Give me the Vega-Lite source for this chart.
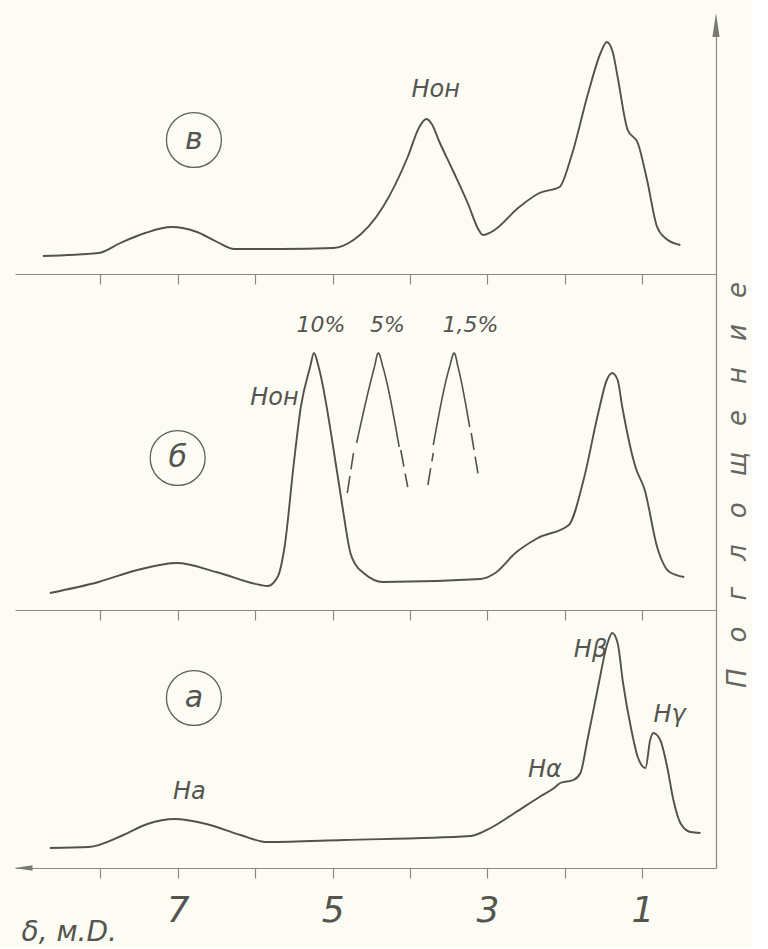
{
  "$schema": "https://vega.github.io/schema/vega-lite/v6.json",
  "background": "#fcfcf5",
  "padding": {"left": 14, "top": 13, "right": 0, "bottom": 0},
  "spacing": 0,
  "bounds": "flush",
  "config": {
    "view": {"stroke": null},
    "axis": {"grid": false, "domainColor": "#8a8a83", "tickColor": "#8a8a83", "domainWidth": 1.2, "tickWidth": 1.2, "tickSize": 10}
  },
  "datasets": {
    "curve_v": [
      {"ppm": 8.74, "v": 18}, {"ppm": 8.02, "v": 21}, {"ppm": 7.74, "v": 31}, {"ppm": 7.42, "v": 41},
      {"ppm": 7.08, "v": 47}, {"ppm": 6.75, "v": 42}, {"ppm": 6.49, "v": 32}, {"ppm": 6.27, "v": 25},
      {"ppm": 5.67, "v": 25}, {"ppm": 4.99, "v": 26}, {"ppm": 4.73, "v": 34}, {"ppm": 4.35, "v": 67},
      {"ppm": 4.03, "v": 117}, {"ppm": 3.88, "v": 147}, {"ppm": 3.79, "v": 155}, {"ppm": 3.72, "v": 150},
      {"ppm": 3.62, "v": 132}, {"ppm": 3.45, "v": 104}, {"ppm": 3.25, "v": 70}, {"ppm": 3.12, "v": 45},
      {"ppm": 3.06, "v": 39}, {"ppm": 2.95, "v": 42},
      {"ppm": 2.59, "v": 67}, {"ppm": 2.33, "v": 81}, {"ppm": 2.07, "v": 87},
      {"ppm": 1.92, "v": 117}, {"ppm": 1.7, "v": 181}, {"ppm": 1.54, "v": 221}, {"ppm": 1.46, "v": 232},
      {"ppm": 1.38, "v": 221}, {"ppm": 1.32, "v": 197}, {"ppm": 1.19, "v": 144}, {"ppm": 1.06, "v": 131},
      {"ppm": 0.94, "v": 94}, {"ppm": 0.81, "v": 47}, {"ppm": 0.69, "v": 35}, {"ppm": 0.51, "v": 29}
    ],
    "curve_b": [
      {"ppm": 8.65, "v": 17}, {"ppm": 8.02, "v": 28}, {"ppm": 7.52, "v": 40}, {"ppm": 7.01, "v": 47},
      {"ppm": 6.5, "v": 38}, {"ppm": 5.93, "v": 25}, {"ppm": 5.84, "v": 24}, {"ppm": 5.71, "v": 33},
      {"ppm": 5.62, "v": 63}, {"ppm": 5.5, "v": 147}, {"ppm": 5.41, "v": 203}, {"ppm": 5.29, "v": 243},
      {"ppm": 5.24, "v": 257}, {"ppm": 5.18, "v": 243}, {"ppm": 4.94, "v": 137},
      {"ppm": 4.87, "v": 102}, {"ppm": 4.77, "v": 57}, {"ppm": 4.7, "v": 45}, {"ppm": 4.6, "v": 37},
      {"ppm": 4.35, "v": 28}, {"ppm": 3.09, "v": 31}, {"ppm": 2.9, "v": 37}, {"ppm": 2.64, "v": 57},
      {"ppm": 2.35, "v": 72}, {"ppm": 1.95, "v": 85}, {"ppm": 1.76, "v": 130}, {"ppm": 1.57, "v": 197},
      {"ppm": 1.46, "v": 230}, {"ppm": 1.39, "v": 237}, {"ppm": 1.32, "v": 230}, {"ppm": 1.26, "v": 203},
      {"ppm": 1.09, "v": 143}, {"ppm": 0.97, "v": 120}, {"ppm": 0.81, "v": 63}, {"ppm": 0.65, "v": 38},
      {"ppm": 0.46, "v": 33}
    ],
    "peaks_b": [
      {"seg": "p5", "style": "solid", "ppm": 4.69, "v": 167}, {"seg": "p5", "style": "solid", "ppm": 4.46, "v": 243},
      {"seg": "p5", "style": "solid", "ppm": 4.41, "v": 257}, {"seg": "p5", "style": "solid", "ppm": 4.35, "v": 243},
      {"seg": "p5", "style": "solid", "ppm": 4.14, "v": 163},
      {"seg": "p5l", "style": "dashed", "ppm": 4.73, "v": 157}, {"seg": "p5l", "style": "dashed", "ppm": 4.81, "v": 117},
      {"seg": "p5r", "style": "dashed", "ppm": 4.12, "v": 160}, {"seg": "p5r", "style": "dashed", "ppm": 4.03, "v": 123},
      {"seg": "p15", "style": "solid", "ppm": 3.7, "v": 165}, {"seg": "p15", "style": "solid", "ppm": 3.49, "v": 243},
      {"seg": "p15", "style": "solid", "ppm": 3.43, "v": 257}, {"seg": "p15", "style": "solid", "ppm": 3.38, "v": 243},
      {"seg": "p15", "style": "solid", "ppm": 3.23, "v": 183},
      {"seg": "p15l", "style": "dashed", "ppm": 3.7, "v": 157}, {"seg": "p15l", "style": "dashed", "ppm": 3.77, "v": 125},
      {"seg": "p15r", "style": "dashed", "ppm": 3.21, "v": 177}, {"seg": "p15r", "style": "dashed", "ppm": 3.12, "v": 135}
    ],
    "curve_a": [
      {"ppm": 8.65, "v": 20}, {"ppm": 8.15, "v": 21}, {"ppm": 7.7, "v": 33}, {"ppm": 7.39, "v": 44},
      {"ppm": 7.04, "v": 49}, {"ppm": 6.63, "v": 44}, {"ppm": 6.19, "v": 33}, {"ppm": 5.84, "v": 26},
      {"ppm": 4.86, "v": 28}, {"ppm": 3.22, "v": 32}, {"ppm": 2.96, "v": 40}, {"ppm": 2.65, "v": 55},
      {"ppm": 2.33, "v": 71}, {"ppm": 2.14, "v": 80}, {"ppm": 2.06, "v": 85}, {"ppm": 1.89, "v": 88},
      {"ppm": 1.8, "v": 95}, {"ppm": 1.71, "v": 128}, {"ppm": 1.58, "v": 178}, {"ppm": 1.45, "v": 225},
      {"ppm": 1.39, "v": 235}, {"ppm": 1.32, "v": 225}, {"ppm": 1.25, "v": 185}, {"ppm": 1.15, "v": 141},
      {"ppm": 1.06, "v": 111}, {"ppm": 0.96, "v": 100}, {"ppm": 0.9, "v": 128}, {"ppm": 0.86, "v": 135},
      {"ppm": 0.77, "v": 128}, {"ppm": 0.68, "v": 101}, {"ppm": 0.6, "v": 68}, {"ppm": 0.51, "v": 45},
      {"ppm": 0.38, "v": 36}, {"ppm": 0.25, "v": 35}
    ],
    "circ_v": [{"ppm": 6.79, "v": 134, "label": "в"}],
    "circ_b": [{"ppm": 7.0, "v": 152, "label": "б"}],
    "circ_a": [{"ppm": 6.79, "v": 170, "label": "а"}],
    "lab_v": [{"ppm": 3.67, "v": 184, "label": "Hон"}],
    "lab_b": [{"ppm": 5.75, "v": 212, "label": "Hон"}],
    "pct_b": [
      {"ppm": 5.15, "v": 285, "label": "10%"},
      {"ppm": 4.29, "v": 285, "label": "5%"},
      {"ppm": 3.22, "v": 285, "label": "1,5%"}
    ],
    "side_b": [{"ppm": -0.24, "v": 125, "label": "П\u2003о\u2003г\u2003л\u2003о\u2003щ\u2003е\u2003н\u2003и\u2003е"}],
    "lab_a": [
      {"ppm": 6.85, "v": 76, "label": "Ha"},
      {"ppm": 2.26, "v": 98, "label": "Hα"},
      {"ppm": 1.67, "v": 218, "label": "Hβ"},
      {"ppm": 0.65, "v": 153, "label": "Hγ"}
    ],
    "arrow_up": [{"ppm": 0.05, "v": 249}],
    "arrow_left": [{"ppm": 8.99, "v": 0}]
  },
  "vconcat": [
    {
      "width": 701,
      "height": 249,
      "encoding": {
        "x": {"field": "ppm", "type": "quantitative", "scale": {"domain": [9.1, 0.05], "nice": false, "zero": false},
              "axis": {"values": [8, 7, 6, 5, 4, 3, 2, 1], "labels": false, "title": null}},
        "y": {"field": "v", "type": "quantitative", "scale": {"domain": [0, 249], "nice": false},
              "axis": {"orient": "right", "ticks": false, "labels": false, "title": null}}
      },
      "layer": [
        {"data": {"name": "curve_v"}, "mark": {"type": "line", "interpolate": "monotone", "color": "#52524a", "strokeWidth": 1.9}},
        {"data": {"name": "circ_v"}, "mark": {"type": "point", "shape": "circle", "size": 3019, "filled": false, "color": "#5e5e58", "strokeWidth": 1.3, "opacity": 1}},
        {"data": {"name": "circ_v"}, "mark": {"type": "text", "font": "DejaVu Sans", "fontStyle": "italic", "fontWeight": 200, "fontSize": 30, "color": "#55554f"}, "encoding": {"text": {"field": "label"}}},
        {"data": {"name": "lab_v"}, "mark": {"type": "text", "font": "DejaVu Sans", "fontStyle": "italic", "fontWeight": 200, "fontSize": 24, "color": "#55554f"}, "encoding": {"text": {"field": "label"}}},
        {"data": {"name": "arrow_up"}, "mark": {"type": "point", "shape": "M0,-1L0.3,1L-0.3,1Z", "size": 576, "filled": true, "color": "#7a7a74", "opacity": 1}}
      ]
    },
    {
      "width": 701,
      "height": 336,
      "encoding": {
        "x": {"field": "ppm", "type": "quantitative", "scale": {"domain": [9.1, 0.05], "nice": false, "zero": false},
              "axis": {"values": [8, 7, 6, 5, 4, 3, 2, 1], "labels": false, "title": null}},
        "y": {"field": "v", "type": "quantitative", "scale": {"domain": [0, 336], "nice": false},
              "axis": {"orient": "right", "ticks": false, "labels": false, "title": null}}
      },
      "layer": [
        {"data": {"name": "curve_b"}, "mark": {"type": "line", "interpolate": "monotone", "color": "#52524a", "strokeWidth": 1.9}},
        {"data": {"name": "peaks_b"}, "mark": {"type": "line", "interpolate": "monotone", "color": "#52524a", "strokeWidth": 1.6},
         "encoding": {"detail": {"field": "seg"},
                      "strokeDash": {"field": "style", "type": "nominal", "scale": {"domain": ["solid", "dashed"], "range": [[1, 0], [17, 7]]}, "legend": null}}},
        {"data": {"name": "circ_b"}, "mark": {"type": "point", "shape": "circle", "size": 3019, "filled": false, "color": "#5e5e58", "strokeWidth": 1.3, "opacity": 1}},
        {"data": {"name": "circ_b"}, "mark": {"type": "text", "font": "DejaVu Sans", "fontStyle": "italic", "fontWeight": 200, "fontSize": 30, "color": "#55554f"}, "encoding": {"text": {"field": "label"}}},
        {"data": {"name": "lab_b"}, "mark": {"type": "text", "font": "DejaVu Sans", "fontStyle": "italic", "fontWeight": 200, "fontSize": 24, "color": "#55554f"}, "encoding": {"text": {"field": "label"}}},
        {"data": {"name": "pct_b"}, "mark": {"type": "text", "font": "DejaVu Sans", "fontStyle": "italic", "fontWeight": 200, "fontSize": 22, "color": "#55554f"}, "encoding": {"text": {"field": "label"}}},
        {"data": {"name": "side_b"}, "mark": {"type": "text", "font": "DejaVu Sans", "fontStyle": "italic", "fontWeight": 200, "fontSize": 26, "angle": 270, "color": "#66665f"}, "encoding": {"text": {"field": "label"}}}
      ]
    },
    {
      "width": 701,
      "height": 258,
      "encoding": {
        "x": {"field": "ppm", "type": "quantitative", "scale": {"domain": [9.1, 0.05], "nice": false, "zero": false},
              "axis": {"values": [8, 7, 6, 5, 4, 3, 2, 1], "labelExpr": "datum.value % 2 == 1 ? datum.label : ''",
                       "labelFont": "DejaVu Sans", "labelFontStyle": "italic", "labelFontWeight": 200, "labelFontSize": 36,
                       "labelColor": "#55554f", "labelBaseline": "alphabetic", "labelPadding": 43, "labelFlush": false, "labelOverlap": false,
                       "title": "δ, м.D.", "titleX": 6, "titleY": 72, "titleAlign": "left", "titleAnchor": "start", "titleBaseline": "alphabetic",
                       "titleFont": "DejaVu Sans", "titleFontStyle": "italic", "titleFontWeight": 200, "titleFontSize": 28, "titleColor": "#55554f"}},
        "y": {"field": "v", "type": "quantitative", "scale": {"domain": [0, 258], "nice": false},
              "axis": {"orient": "right", "ticks": false, "labels": false, "title": null}}
      },
      "layer": [
        {"data": {"name": "curve_a"}, "mark": {"type": "line", "interpolate": "monotone", "color": "#52524a", "strokeWidth": 1.9}},
        {"data": {"name": "circ_a"}, "mark": {"type": "point", "shape": "circle", "size": 3019, "filled": false, "color": "#5e5e58", "strokeWidth": 1.3, "opacity": 1}},
        {"data": {"name": "circ_a"}, "mark": {"type": "text", "font": "DejaVu Sans", "fontStyle": "italic", "fontWeight": 200, "fontSize": 30, "color": "#55554f"}, "encoding": {"text": {"field": "label"}}},
        {"data": {"name": "lab_a"}, "mark": {"type": "text", "font": "DejaVu Sans", "fontStyle": "italic", "fontWeight": 200, "fontSize": 24, "color": "#55554f"}, "encoding": {"text": {"field": "label"}}},
        {"data": {"name": "arrow_left"}, "mark": {"type": "point", "shape": "M-1,0L1,-0.3L1,0.3Z", "size": 324, "filled": true, "color": "#7a7a74", "opacity": 1}}
      ]
    }
  ]
}
